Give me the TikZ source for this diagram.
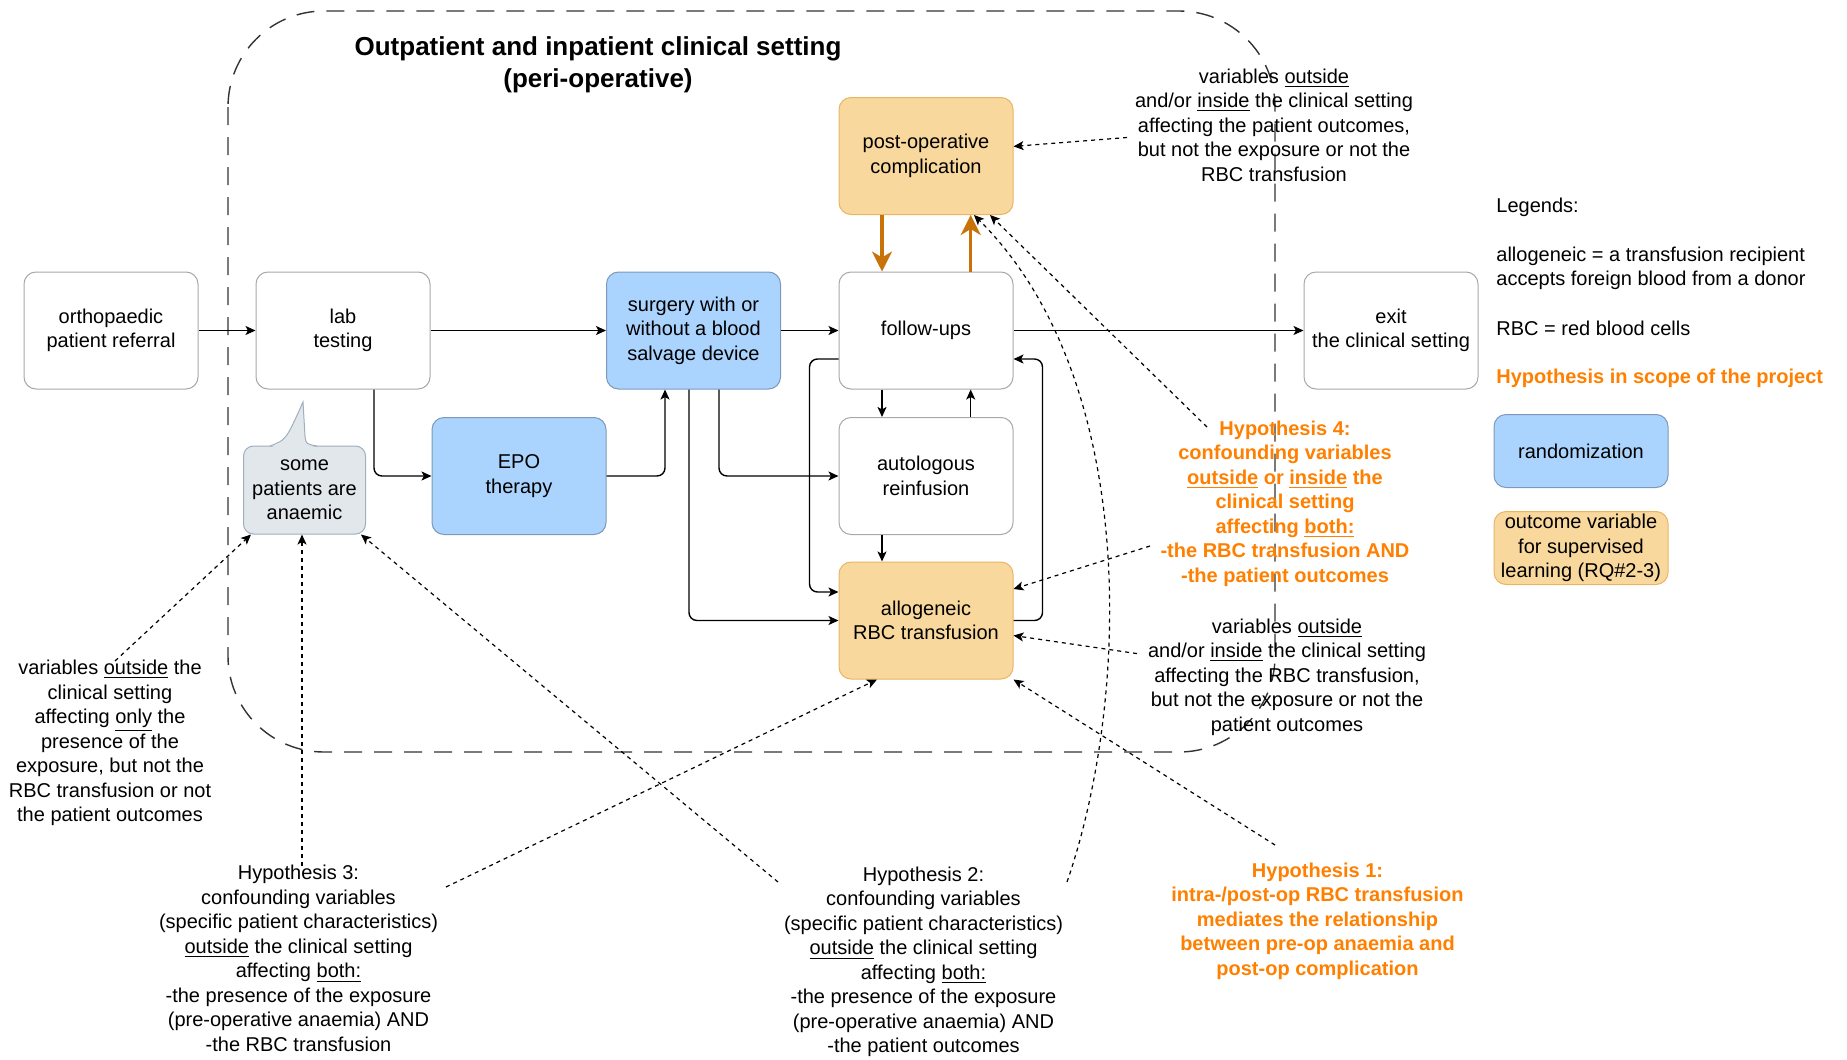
\documentclass[tikz,border=0pt]{standalone}
\usepackage{fontspec}
\setmainfont{Liberation Sans}
\usetikzlibrary{arrows.meta}
\definecolor{bluefill}{HTML}{AAD4FE}
\definecolor{blueline}{HTML}{7D98B8}
\definecolor{orangefill}{HTML}{F8D89C}
\definecolor{orangeline}{HTML}{E9B565}
\definecolor{greyline}{HTML}{A8A8A8}
\definecolor{callfill}{HTML}{E2E7EC}
\definecolor{callline}{HTML}{A0AEBD}
\definecolor{hypo}{HTML}{FF8000}
\definecolor{thickarrow}{HTML}{C8720A}

\begin{document}
\begin{tikzpicture}[x=0.5pt, y=-0.5pt,
  font=\fontsize{10}{12.25}\selectfont,
  box/.style={shape=rectangle, draw=greyline, line width=0.5pt, rounded corners=6pt, fill=white, minimum width=87pt, minimum height=58.5pt, align=center, inner sep=1pt},
  bluebox/.style={box, fill=bluefill, draw=blueline},
  orangebox/.style={box, fill=orangefill, draw=orangeline},
  note/.style={align=center, inner sep=3pt},
  hyp/.style={note, text=hypo, font=\bfseries\fontsize{10}{12.25}\selectfont},
  flow/.style={draw, line width=0.7pt, rounded corners=4pt, -{Stealth[length=5pt,width=4.5pt,inset=1.2pt]}},
  link/.style={draw, line width=0.6pt, dash pattern=on 2pt off 2pt, -{Stealth[length=5pt,width=4.5pt,inset=1.2pt]}},
  heavy/.style={draw=thickarrow, line width=1.6pt, -{Stealth[length=10pt,width=10pt,inset=3pt]}},
  container/.style={draw=black!80, line width=0.7pt, dash pattern=on 9pt off 6pt, rounded corners=48pt}]
        \useasboundingbox (0,0) rectangle (1847,1060);
        % Clinical setting frame and title:
        \draw[container] (228,11) rectangle (1275,752);
        \node[font=\bfseries\fontsize{13}{16}\selectfont, align=center] (title) at (598,65){Outpatient and inpatient clinical setting\\(peri-operative)};
        % Pathway boxes:
        \node[box] (referral) at (111,330.5){orthopaedic\\patient referral};
        \node[box] (lab) at (343,330.5){lab\\testing};
        \node[bluebox] (surgery) at (693.5,330.5){surgery with or\\without a blood\\salvage device};
        \node[box] (follow) at (926,330.5){follow-ups};
        \node[box] (exit) at (1391,330.5){exit\\the clinical setting};
        \node[orangebox] (postop) at (926,156){post-operative\\complication};
        \node[bluebox] (epo) at (519,476){EPO\\therapy};
        \node[box] (autolog) at (926,476){autologous\\reinfusion};
        \node[orangebox] (allo) at (926,620.5){allogeneic\\RBC transfusion};
        % Callout:
        \node[shape=rectangle, fill=callfill, draw=callline, line width=0.5pt, rounded corners=5pt, minimum width=61pt, minimum height=44pt, align=center, inner sep=1pt] (anaemic) at (304.5,490){some\\patients are\\anaemic};
        \fill[callfill] (271,447.5) .. controls (286,440) .. (303,402) -- (305,436) .. controls (306,444) .. (316,447.5) -- cycle;
        \draw[callline, line width=0.5pt] (270,446) .. controls (286,440) .. (303,402) -- (305,436) .. controls (306,444) .. (317,446);
        % Legend:
        \node[anchor=west, inner sep=3pt] (legtitle) at (1490,207){Legends:};
        \node[anchor=west, inner sep=3pt, align=left] (legallo) at (1490,268.5){allogeneic = a transfusion recipient\\accepts foreign blood from a donor};
        \node[anchor=west, inner sep=3pt] (legrbc) at (1490,328.6){RBC = red blood cells};
        \node[anchor=west, inner sep=3pt, text=hypo, font=\bfseries\fontsize{10}{12.25}\selectfont] (legscope) at (1490,378){Hypothesis in scope of the project};
        \node[bluebox, minimum height=36.5pt] (legrand) at (1581,451){randomization};
        \node[orangebox, minimum height=36.5pt] (legoutcome) at (1581,548){outcome variable\\for supervised\\learning (RQ\#2-3)};
        % Explanatory texts:
        \node[note] (vartop) at (1274,125){variables \underline{outside}\\and/or \underline{inside} the clinical setting\\affecting the patient outcomes,\\but not the exposure or not the\\RBC transfusion};
        \node[hyp] (hypfour) at (1285,503.5){Hypothesis 4:\\confounding variables\\\underline{outside} or \underline{inside} the\\clinical setting\\affecting \underline{both:}\\-the RBC transfusion AND\\-the patient outcomes};
        \node[note] (varbot) at (1287,677){variables \underline{outside}\\and/or \underline{inside} the clinical setting\\affecting the RBC transfusion,\\but not the exposure or not the\\patient outcomes};
        \node[note] (varleft) at (110,743){variables \underline{outside} the\\clinical setting\\affecting \underline{only} the\\presence of the\\exposure, but not the\\RBC transfusion or not\\the patient outcomes};
        \node[note] (hypthree) at (298.5,958.5){Hypothesis 3:\\confounding variables\\(specific patient characteristics)\\\underline{outside} the clinical setting\\affecting \underline{both:}\\-the presence of the exposure\\(pre-operative anaemia) AND\\-the RBC transfusion};
        \node[note] (hyptwo) at (923.5,962){Hypothesis 2:\\confounding variables\\(specific patient characteristics)\\\underline{outside} the clinical setting\\affecting \underline{both:}\\-the presence of the exposure\\(pre-operative anaemia) AND\\-the patient outcomes};
        \node[hyp] (hypone) at (1317.5,921){Hypothesis 1:\\intra-/post-op RBC transfusion\\mediates the relationship\\between pre-op anaemia and\\post-op complication};
        % Free ends of the dotted links:
        \coordinate (vartopside) at (1127,137.5);
        \coordinate (hypfourtop) at (1207,427);
        \coordinate (hypfourside) at (1150,546);
        \coordinate (varbotside) at (1137,653.6);
        \coordinate (hyponetop) at (1275,845);
        \coordinate (hyptwoleft) at (778,882);
        \coordinate (hyptworight) at (1067,882);
        \coordinate (hypthreetop) at (302,866);
        \coordinate (hypthreeright) at (446,887);
        \coordinate (varlefttop) at (115,661);
        % Pathway connectors:
        \draw[flow] (referral.east) -- (lab.west);
        \draw[flow] (lab.east) -- (surgery.west);
        \draw[flow] (surgery.east) -- (follow.west);
        \draw[flow] (follow.east) -- (exit.west);
        \draw[flow] ([xshift=15.5pt]lab.south) |- (epo.west);
        \draw[flow] (epo.east) -| ([xshift=-14.25pt]surgery.south);
        \draw[flow] ([xshift=12.75pt]surgery.south) |- (autolog.west);
        \draw[flow] ([xshift=-2.25pt]surgery.south) |- (allo.west);
        \draw[flow] ([yshift=-14.25pt]follow.west) -- ++(-29,0) |- ([yshift=14.25pt]allo.west);
        \draw[flow] ([xshift=-22pt]follow.south) -- ([xshift=-22pt]autolog.north);
        \draw[flow] ([xshift=22.35pt]autolog.north) -- ([xshift=22.35pt]follow.south);
        \draw[flow] ([xshift=-22pt]autolog.south) -- ([xshift=-22pt]allo.north);
        \draw[flow] (allo.east) -- ++(29,0) |- ([yshift=-14.25pt]follow.east);
        \draw[heavy] ([xshift=-22pt]postop.south) -- ([xshift=-22pt]follow.north);
        \draw[heavy] ([xshift=22.35pt]follow.north) -- ([xshift=22.35pt]postop.south);
        % Dotted links:
        \draw[link] (vartopside) -- ([yshift=4.8pt]postop.east);
        \draw[link] (hypfourtop) -- ([xshift=32pt]postop.south);
        \draw[link] (hypfourside) -- ([yshift=15.75pt]allo.east);
        \draw[link] (varbotside) -- ([yshift=-7.5pt]allo.east);
        \draw[link] (hyponetop) -- (allo.south east);
        \draw[link] (hyptworight) .. controls (1130,700) and (1140,380) .. ([xshift=24pt]postop.south);
        \draw[link] (hyptwoleft) -- ([xshift=-2.5pt]anaemic.south east);
        \draw[link] (hypthreetop) -- (hypthreetop |- anaemic.south);
        \draw[link] (hypthreeright) -- ([xshift=-24.5pt]allo.south);
        \draw[link] (varlefttop) -- ([xshift=4pt]anaemic.south west);
    \end{tikzpicture}
\end{document}
